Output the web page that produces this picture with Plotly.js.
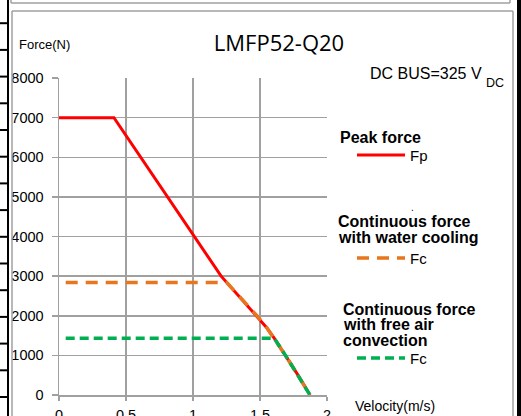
<!DOCTYPE html>
<html><head><meta charset="utf-8">
<script src="https://cdn.plot.ly/plotly-3.0.1.min.js"></script>
<style>html,body{margin:0;padding:0;background:#fff;overflow:hidden}#chart{width:521px;height:416px}</style>
</head><body><div id="chart"></div>
<script>
// ---- data ----
const peakVelocity  = [0, 0.41, 1.21, 1.30, 1.40, 1.48, 1.55, 1.607, 1.69, 1.78, 1.873];
const peakForce     = [7000, 7000, 3000, 2660, 2290, 1990, 1700, 1430, 1000, 520, 0];
const waterVelocity = [0.05, 1.252, 1.30, 1.40, 1.48, 1.55, 1.607, 1.69, 1.78, 1.873];
const waterForce    = [2840, 2840, 2660, 2290, 1990, 1700, 1430, 1000, 520, 0];
const airVelocity   = [0.05, 1.607, 1.69, 1.78, 1.873];
const airForce      = [1430, 1430, 1000, 520, 0];
const xTickVals = [0, 0.5, 1, 1.5, 2];
const xTickText = ['0', '0.5', '1', '1.5', '2'];
const yTickVals = [0, 1000, 2000, 3000, 4000, 5000, 6000, 7000, 8000];
const yTickText = ['0', '1000', '2000', '3000', '4000', '5000', '6000', '7000', '8000'];

const W = 521, H = 416, L = 59, R = 327, T = 78, B = 395;
const px = x => (x - L) / (R - L);
const py = y => (B - y) / (B - T);

const RED = '#ff0000', ORANGE = '#e8761e', GREEN = '#00b050';
const FONT = 'Liberation Sans, Arial, sans-serif';

const traces = [
  {x: peakVelocity, y: peakForce, mode: 'lines', name: 'Fp', line: {color: RED, width: 3}, showlegend: false},
  {x: waterVelocity, y: waterForce, mode: 'lines', name: 'Fc', line: {color: ORANGE, width: 3.5, dash: '12px,8px'}, showlegend: false},
  {x: airVelocity, y: airForce, mode: 'lines', name: 'Fc', line: {color: GREEN, width: 3.5, dash: '9px,5px'}, showlegend: false}
];

const shapes = [];
function line(x0, y0, x1, y1, color, width) {
  shapes.push({type: 'line', xref: 'paper', yref: 'paper', x0: px(x0), y0: py(y0), x1: px(x1), y1: py(y1),
    line: {color: color, width: width}, layer: 'above'});
}
// page frame
line(8, 0, 8, H, '#000', 2);
for (let k = 0; k < 15; k++) { const y = 23.2 + 26.7 * k; line(0, y, 8, y, '#000', 2); }
line(11, 0, 11, 3, '#a0a0a0', 1.5);
line(11, 3, 510, 3, '#a0a0a0', 1.5);
line(510, 0, 510, 3, '#a0a0a0', 1.5);
line(12, H, 12, 11, '#a0a0a0', 1.5);
line(12, 11, 513, 11, '#a0a0a0', 1.5);
line(513, 11, 513, H, '#a0a0a0', 1.5);
shapes.push({type: 'rect', xref: 'paper', yref: 'paper', x0: px(517), x1: px(521.5), y0: py(-1), y1: py(H + 1),
  fillcolor: '#000', line: {width: 0}});
// legend keys
line(357, 155, 405, 155, RED, 3);
shapes.push({type: 'line', xref: 'paper', yref: 'paper', x0: px(357), y0: py(258), x1: px(405), y1: py(258),
  line: {color: ORANGE, width: 3.5, dash: '12px,8px'}});
shapes.push({type: 'line', xref: 'paper', yref: 'paper', x0: px(357), y0: py(358), x1: px(405), y1: py(358),
  line: {color: GREEN, width: 3.5, dash: '9px,5px'}});

const annotations = [];
function text(t, x, y, size, opts) {
  annotations.push(Object.assign({text: t, xref: 'paper', yref: 'paper', x: px(x), y: py(y),
    xanchor: 'left', yanchor: 'middle', showarrow: false, borderpad: 0,
    font: {family: FONT, size: size, color: '#000'}}, opts || {}));
}
text('Force(N)', 18, 44, 13);
text('DC BUS=325 V', 369, 73.5, 16);
text('DC', 485, 83, 12.5);
text('<b>Peak force</b>', 339, 137, 16);
text('Fp', 409, 155.5, 15);
text('.', 410, 207, 10);
text('<b>Continuous force</b>', 337, 221, 16);
text('<b>with water cooling</b>', 337, 237, 16);
text('Fc', 409, 258.5, 15);
text('<b>Continuous force</b>', 342, 309, 16);
text('<b>with free air</b>', 342, 324.5, 16);
text('<b>convection</b>', 342, 340, 16);
text('Fc', 409, 358.5, 15);
text('Velocity(m/s)', 354, 406, 14);

const layout = {
  width: W, height: H,
  margin: {l: L, r: W - R, t: T, b: H - B, pad: 0},
  paper_bgcolor: '#fff', plot_bgcolor: '#fff',
  showlegend: false,
  title: {text: 'LMFP52-Q20', x: 279 / W, xref: 'container', xanchor: 'center',
    y: 1 - 43 / H, yref: 'container', yanchor: 'middle',
    font: {family: 'Open Sans, sans-serif', size: 22, color: '#000'}},
  xaxis: {range: [0, 2], tickvals: xTickVals, ticktext: xTickText, showgrid: true, gridcolor: '#a0a0a0', gridwidth: 1.5,
    zeroline: false, showline: true, linecolor: '#a0a0a0', linewidth: 1.5, ticks: 'outside', ticklen: 4,
    tickcolor: '#a0a0a0', tickwidth: 1.5, ticklabelstandoff: 2, tickfont: {family: FONT, size: 14.5, color: '#000'},
    fixedrange: true},
  yaxis: {range: [0, 8000], tickvals: yTickVals, ticktext: yTickText, showgrid: true, gridcolor: '#a0a0a0', gridwidth: 1.5,
    zeroline: false, showline: true, linecolor: '#a0a0a0', linewidth: 1.5, ticks: 'outside', ticklen: 6,
    tickcolor: '#a0a0a0', tickwidth: 1.5, ticklabelstandoff: 5, tickfont: {family: FONT, size: 14.5, color: '#000'},
    fixedrange: true},
  shapes: shapes,
  annotations: annotations
};
Plotly.newPlot('chart', traces, layout, {displayModeBar: false, staticPlot: true});
</script></body></html>
